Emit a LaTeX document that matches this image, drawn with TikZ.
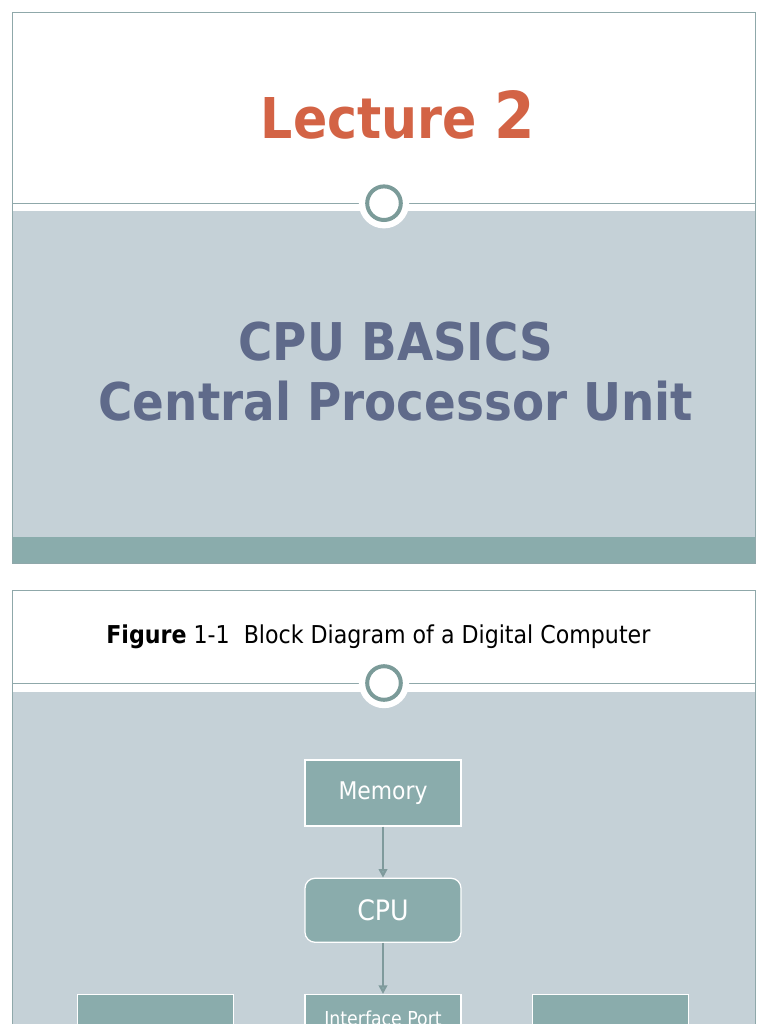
\documentclass[tikz,border=0pt]{standalone}
\usepackage{fontspec}
\setmainfont{DejaVu Sans Condensed}
\usepackage{xcolor}
\usepackage{tikz}
\usetikzlibrary{positioning,arrows.meta}

\definecolor{bandblue}{HTML}{C5D1D7}
\definecolor{boxteal}{HTML}{8AACAC}
\definecolor{ringteal}{HTML}{7B9B99}
\definecolor{slideline}{HTML}{8FA8AA}
\definecolor{arrowgray}{HTML}{7F9A9C}
\definecolor{lecturered}{HTML}{D36345}
\definecolor{titleslate}{HTML}{5F6A8A}

\begin{document}
\begin{tikzpicture}[
  node distance=1.275cm and 1.75cm,
  blockbox/.style={draw=white, line width=0.9pt, fill=boxteal, minimum width=3.9cm, minimum height=1.65cm, text=white, font=\fontsize{17.3}{20}\selectfont},
  boxlabel/.style={text=white, font=\fontsize{13.7}{16}\selectfont},
  frameline/.style={draw=slideline, line width=0.6pt},
  ringhalo/.style={circle, fill=white, minimum size=1.26cm, inner sep=0pt},
  ring/.style={circle, draw=ringteal, line width=0.1cm, fill=white, minimum size=0.84cm, inner sep=0pt},
  flow/.style={-{Triangle[length=6pt, width=6pt, fill=boxteal]}, draw=arrowgray, line width=1.4pt},
]
\useasboundingbox (0,0) rectangle (19.2,-25.6);

% Slide 1: title slide
\fill[white] (0.3,-0.3) rectangle (18.875,-14.075);
\fill[bandblue] (0.3,-5.28) rectangle (18.875,-13.425);
\fill[boxteal] (0.3,-13.425) rectangle (18.875,-14.075);
\draw[frameline] (0.3,-0.3) rectangle (18.875,-14.075);
\draw[frameline] (0.3,-5.08) -- (18.875,-5.08);
\node[ringhalo] (halo1) at (9.6,-5.08) {};
\node[ring] (ring1) at (9.6,-5.08) {};

\node[anchor=base, text=lecturered, font=\bfseries\fontsize{40}{48}\selectfont] (lecture) at (9.95,-3.45)
  {Lecture {\fontsize{46}{48}\selectfont 2}};
\node[anchor=base, text=titleslate, font=\bfseries\fontsize{37}{43}\selectfont] (basics) at (9.9,-9.0) {CPU BASICS};
\node[anchor=base, text=titleslate, font=\bfseries\fontsize{37}{43}\selectfont] (cpuname) at (9.9,-10.5) {Central Processor Unit};

% Slide 2: block diagram
\fill[white] (0.3,-14.75) rectangle (18.875,-25.8);
\fill[bandblue] (0.3,-17.3) rectangle (18.875,-25.8);
\draw[frameline] (0.3,-25.8) |- (18.875,-14.75) -- (18.875,-25.8);
\draw[frameline] (0.3,-17.075) -- (18.875,-17.075);
\node[ringhalo] (halo2) at (9.6,-17.075) {};
\node[ring] (ring2) at (9.6,-17.075) {};

\node[anchor=base, font=\fontsize{17.5}{20}\selectfont] (figtitle) at (9.46,-16.075)
  {\textbf{Figure} 1-1\ \ Block Diagram of a Digital Computer};

% Blocks
\node[blockbox] (memory) at (9.575,-19.825) {Memory};
\node[blockbox, rounded corners=0.25cm, minimum height=1.6cm, below=of memory, font=\fontsize{20}{24}\selectfont] (cpu) {CPU};
\node[blockbox, below=of cpu] (iface) {};
\node[blockbox, left=of iface] (inport) {};
\node[blockbox, right=of iface] (outport) {};
\node[boxlabel, anchor=base] (ifacetext) at ([yshift=-0.78cm]iface.north) {Interface Port};

% Connectors
\draw[flow] (memory.south) -- (cpu.north);
\draw[flow] (cpu.south) -- (iface.north);

\end{tikzpicture}
\end{document}
